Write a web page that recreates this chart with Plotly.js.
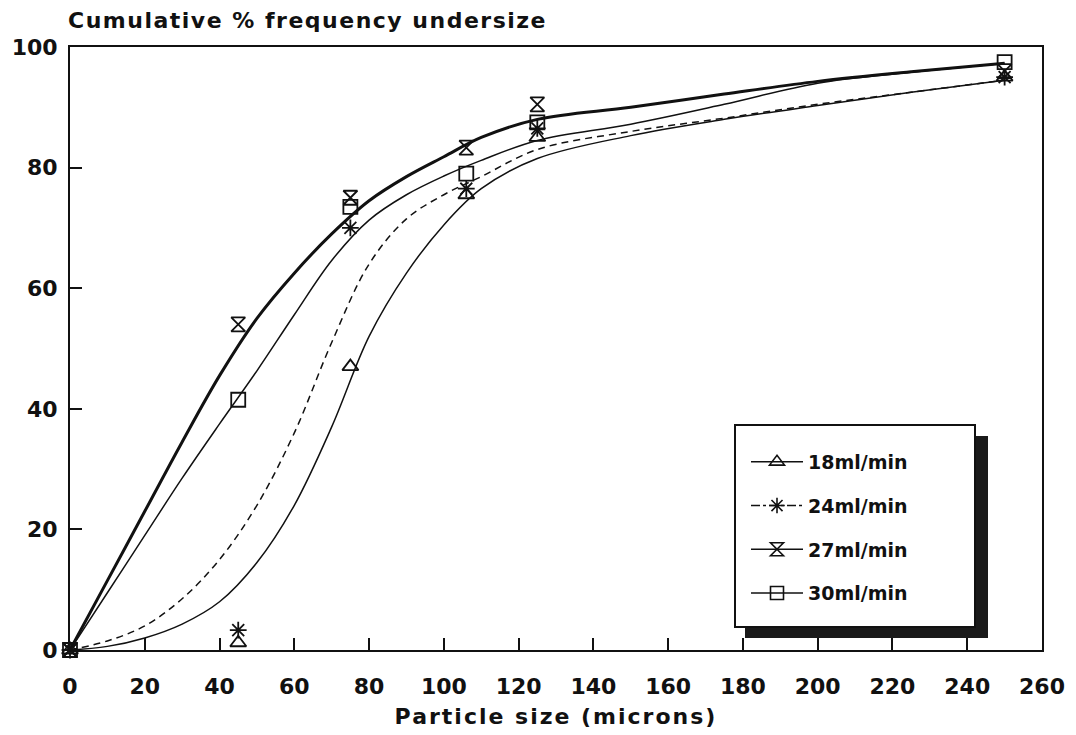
<!DOCTYPE html>
<html>
<head>
<meta charset="utf-8">
<script src="https://cdn.plot.ly/plotly-3.0.1.min.js"></script>
<style>
html,body{margin:0;padding:0;background:#fff;}
#chart{width:1076px;height:735px;}
.gtitle{letter-spacing:1.5px;}
.xtitle{letter-spacing:2px;}
</style>
</head>
<body>
<div id="chart"></div>
<script>
// ---- Data ----
var seriesNames = ['18ml/min', '24ml/min', '27ml/min', '30ml/min'];

// measured points
var sizeX = [0, 45, 75, 106, 125, 250];
var pts18 = [0, 1.2, 47, 75.5, 85, 95];
var pts24 = [0, 3.3, 70, 76.5, 86.5, 95];
var pts27 = [0, 54, 75, 83.3, 90.5, 96];
var pts30 = [0, 41.5, 73.5, 79, 87.5, 97.5];

// fitted curves as traced on the picture
var curveX  = [0, 10, 20, 30, 40, 50, 60, 70, 80, 90, 100, 110, 125, 150, 175, 200, 225, 250];
var curve18 = [0, 0.6, 2, 4.3, 8, 14.5, 24, 37, 52, 62.5, 70.5, 76.5, 81.5, 85.3, 88, 90.3, 92.5, 94.5];
var curve24 = [0, 1.5, 4, 8.5, 15, 24, 36, 51, 64, 71.5, 75.5, 78.5, 83, 86, 88.2, 90.5, 92.5, 94.5];
var curve27 = [0, 11.5, 23, 34.5, 45.5, 55, 62.5, 69, 74.5, 78.5, 81.8, 85, 88, 90, 92.2, 94.3, 95.9, 97.3];
var curve30 = [0, 9.5, 19, 28.5, 37.5, 46.3, 55.6, 64.6, 71.3, 75.5, 78.6, 81.2, 84.5, 87.2, 90.5, 94, 95.8, 97.3];

var xTicks = [0, 20, 40, 60, 80, 100, 120, 140, 160, 180, 200, 220, 240, 260];
var yTicks = [0, 20, 40, 60, 80, 100];

// ---- styles ----
var symbols = ['triangle-up-open', 'asterisk-open', 'hourglass-open', 'square-open'];
var dashes = ['solid', '7px,5px', 'solid', 'solid'];
var widths = [1.5, 1.5, 3, 1.5];
var curves = [curve18, curve24, curve27, curve30];
var points = [pts18, pts24, pts27, pts30];
var ink = '#111';

var traces = [];
for (var i = 0; i < 4; i++) {
  traces.push({
    x: curveX, y: curves[i], mode: 'lines', type: 'scatter',
    line: {color: ink, width: widths[i], dash: dashes[i], shape: 'spline', smoothing: 1},
    showlegend: false, hoverinfo: 'skip', cliponaxis: false
  });
}
for (var i = 0; i < 4; i++) {
  traces.push({
    x: sizeX, y: points[i], mode: 'markers', type: 'scatter',
    marker: {symbol: symbols[i], size: 14, color: ink, line: {color: ink, width: 1.8}},
    showlegend: false, cliponaxis: false
  });
}
for (var i = 0; i < 4; i++) {
  traces.push({
    x: [null], y: [null], mode: 'lines+markers', type: 'scatter', name: seriesNames[i],
    legendgroup: 'g' + i,
    line: {color: ink, width: 1.5, dash: i === 1 ? 'dashdot' : 'solid'},
    marker: {symbol: symbols[i], size: 13, color: ink, line: {color: ink, width: 1.6}}
  });
}

var L = 70, R = 1042, T = 47, B = 650;
function px2x(p) { return (p - L) / (R - L); }
function px2y(p) { return (B - p) / (B - T); }

var layout = {
  width: 1076, height: 735,
  paper_bgcolor: '#fff', plot_bgcolor: '#fff',
  margin: {l: L, r: 1076 - R, t: T, b: 735 - B, pad: 0},
  font: {family: 'DejaVu Sans', color: ink},
  title: {
    text: '<b>Cumulative % frequency undersize</b>',
    font: {family: 'DejaVu Sans', size: 22, color: ink},
    x: 68 / 1076, xanchor: 'left', xref: 'container',
    y: 1 - 20 / 735, yanchor: 'middle', yref: 'container'
  },
  xaxis: {
    range: [0, 260], tickvals: xTicks, ticktext: xTicks.map(String),
    ticks: 'inside', ticklen: 12, tickwidth: 2, tickcolor: ink,
    showline: true, linewidth: 2, linecolor: ink, mirror: true,
    showgrid: false, zeroline: false,
    tickfont: {family: 'DejaVu Sans', size: 22, color: ink, weight: 'bold'},
    ticklabelstandoff: 16,
    title: {text: '<b>Particle size (microns)</b>', font: {family: 'DejaVu Sans', size: 22, color: ink}, standoff: 10}
  },
  yaxis: {
    range: [0, 100], tickvals: yTicks, ticktext: yTicks.map(String),
    ticks: 'inside', ticklen: 12, tickwidth: 2, tickcolor: ink,
    showline: true, linewidth: 2, linecolor: ink, mirror: true,
    showgrid: false, zeroline: false,
    tickfont: {family: 'DejaVu Sans', size: 22, color: ink, weight: 'bold'},
    ticklabelstandoff: 6
  },
  legend: {
    x: px2x(746), y: px2y(443), xanchor: 'left', yanchor: 'top',
    bgcolor: 'rgba(0,0,0,0)', borderwidth: 0,
    font: {family: 'DejaVu Sans', size: 19, color: ink, weight: 'bold'},
    itemwidth: 52, tracegroupgap: 16, traceorder: 'grouped'
  },
  shapes: [
    {type: 'rect', xref: 'paper', yref: 'paper', layer: 'above',
     x0: px2x(745), x1: px2x(988), y0: px2y(638), y1: px2y(436),
     fillcolor: '#1a1a1a', line: {width: 0}},
    {type: 'rect', xref: 'paper', yref: 'paper', layer: 'above',
     x0: px2x(735), x1: px2x(975), y0: px2y(627), y1: px2y(425),
     fillcolor: '#fff', line: {color: ink, width: 2}}
  ],
  showlegend: true
};

Plotly.newPlot('chart', traces, layout, {displayModeBar: false, staticPlot: true});
</script>
</body>
</html>
